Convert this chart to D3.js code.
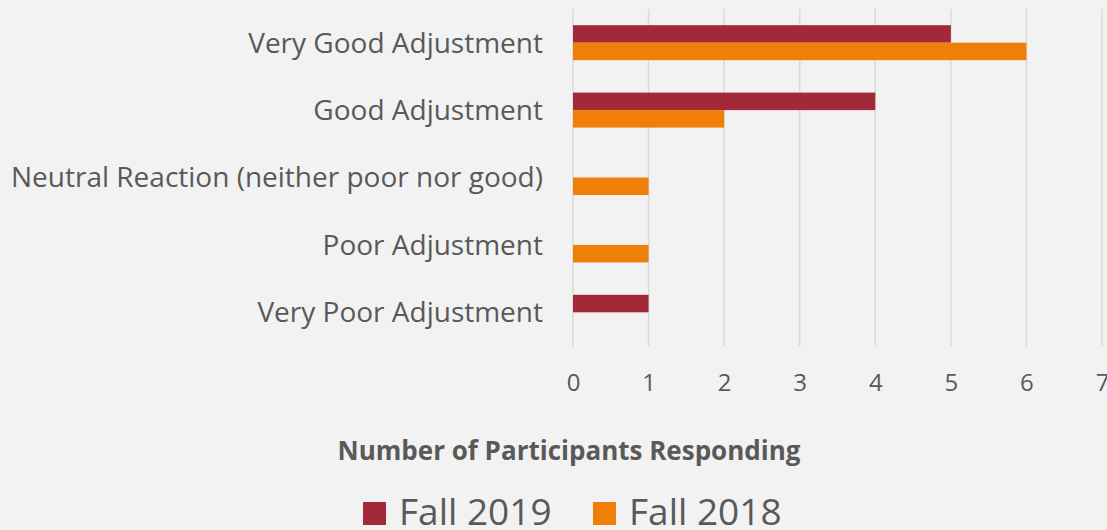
<!DOCTYPE html>
<html>
<head>
<meta charset="utf-8">
<script src="https://cdn.jsdelivr.net/npm/d3@7"></script>
<style>
  body { margin: 0; background: #f2f2f2; }
  svg { display: block; font-family: "Open Sans", sans-serif; }
</style>
</head>
<body>
<svg id="chart"></svg>
<script>
const width = 1107, height = 530;

const categories = ["Very Good Adjustment", "Good Adjustment", "Neutral Reaction (neither poor nor good)", "Poor Adjustment", "Very Poor Adjustment"];
const seriesNames = ["Fall 2019", "Fall 2018"];
const fall2019 = [5, 4, 0, 0, 1];
const fall2018 = [6, 2, 1, 1, 0];
const xTicks = [0, 1, 2, 3, 4, 5, 6, 7];

const colors = ["#a22937", "#f07f09"];
const textColor = "#595959";

const margin = {left: 573, right: 5, top: 9, bottom: 184};

const svg = d3.select("#chart")
    .attr("width", width)
    .attr("height", height);

svg.append("rect")
    .attr("width", width)
    .attr("height", height)
    .attr("fill", "#f2f2f2");

const x = d3.scaleLinear()
    .domain([0, 7])
    .range([margin.left, 1102]);

const y = d3.scaleBand()
    .domain(categories)
    .range([margin.top, height - margin.bottom])
    .paddingInner(0)
    .paddingOuter(0);

// two bars of ~17.5px sitting in the middle of each category band
const barH = 17.5;
const ySeries = d3.scaleBand()
    .domain(seriesNames)
    .range([y.bandwidth() / 2 - barH, y.bandwidth() / 2 + barH]);

// gridlines
svg.append("g")
    .selectAll("line")
    .data(xTicks)
    .enter().append("line")
    .attr("x1", d => x(d))
    .attr("x2", d => x(d))
    .attr("y1", y.range()[0])
    .attr("y2", y.range()[1])
    .attr("stroke", "#d9d9d9")
    .attr("stroke-width", 1.5);

// bars
const rows = categories.map((c, i) => ({cat: c, values: [fall2019[i], fall2018[i]]}));

const group = svg.selectAll(".cat")
    .data(rows)
    .enter().append("g")
    .attr("class", "cat")
    .attr("transform", d => "translate(0," + y(d.cat) + ")");

group.selectAll("rect")
    .data(d => d.values.map((v, j) => ({name: seriesNames[j], value: v, j: j})))
    .enter().append("rect")
    .attr("x", x(0))
    .attr("y", d => ySeries(d.name))
    .attr("width", d => x(d.value) - x(0))
    .attr("height", ySeries.bandwidth())
    .attr("fill", d => colors[d.j]);

// category labels
svg.append("g")
    .selectAll("text")
    .data(categories)
    .enter().append("text")
    .attr("x", 543)
    .attr("y", d => y(d) + y.bandwidth() / 2)
    .attr("dy", "0.35em")
    .attr("text-anchor", "end")
    .attr("fill", textColor)
    .style("font-size", "28px")
    .text(d => d);

// x axis
const xAxis = d3.axisBottom(x)
    .tickValues(xTicks)
    .tickFormat(d3.format("d"))
    .tickSize(0)
    .tickPadding(0);

const axisG = svg.append("g")
    .attr("transform", "translate(0,374)")
    .call(xAxis);
axisG.select(".domain").remove();
axisG.selectAll("text")
    .attr("fill", textColor)
    .style("font-size", "24px")
    .style("font-family", "Open Sans, sans-serif");

// axis title
svg.append("text")
    .attr("x", 569)
    .attr("y", 460)
    .attr("text-anchor", "middle")
    .attr("fill", textColor)
    .style("font-size", "26px")
    .style("font-weight", "bold")
    .text("Number of Participants Responding");

// legend
const legend = svg.append("g")
    .attr("transform", "translate(363,502)");

const legendX = [0, 230];
const item = legend.selectAll(".item")
    .data(seriesNames)
    .enter().append("g")
    .attr("class", "item")
    .attr("transform", (d, i) => "translate(" + legendX[i] + ",0)");

item.append("rect")
    .attr("width", 23)
    .attr("height", 23)
    .attr("fill", (d, i) => colors[i]);

item.append("text")
    .attr("x", 36)
    .attr("y", 10)
    .attr("dy", "0.36em")
    .attr("fill", textColor)
    .style("font-size", "37px")
    .text(d => d);
</script>
</body>
</html>
